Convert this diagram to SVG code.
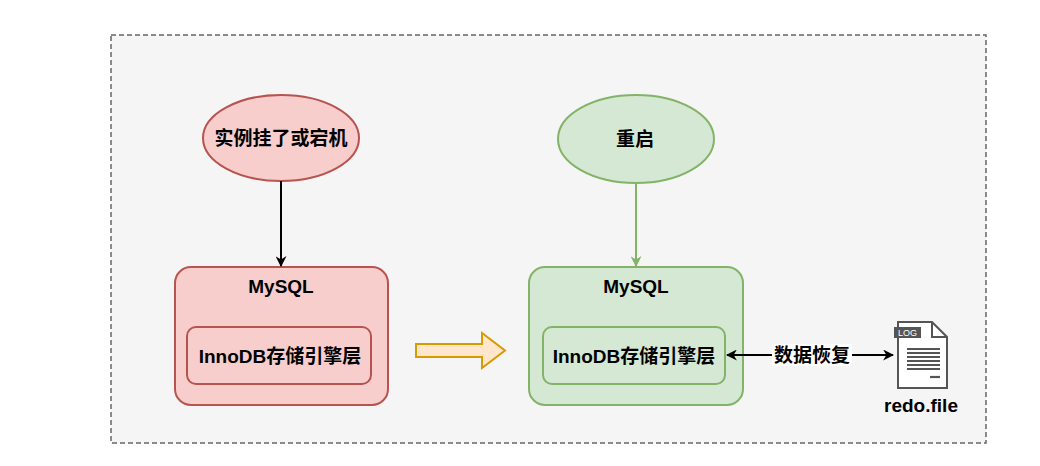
<svg xmlns="http://www.w3.org/2000/svg" width="1040" height="466" viewBox="0 0 1040 466">
<defs>
<style>
.t{font-family:"Liberation Sans","Noto Sans CJK SC",Arial,sans-serif;font-weight:bold;font-size:19px;fill:#000;text-anchor:middle;dominant-baseline:central}
.red{fill:#f8cecc;stroke:#b85450;stroke-width:2}
.green{fill:#d5e8d4;stroke:#82b366;stroke-width:2}
</style>
<marker id="ab" viewBox="0 0 10 10" refX="9" refY="5" markerWidth="11" markerHeight="11" orient="auto-start-reverse" markerUnits="userSpaceOnUse">
<path d="M0,0 L10,5 L0,10 L3,5 Z" fill="#000"/>
</marker>
<marker id="ag" viewBox="0 0 10 10" refX="9" refY="5" markerWidth="11" markerHeight="11" orient="auto" markerUnits="userSpaceOnUse">
<path d="M0,0 L10,5 L0,10 L3,5 Z" fill="#82b366"/>
</marker>
</defs>
<rect width="1040" height="466" fill="#ffffff"/>
<g id="container">
<rect x="111" y="35" width="875" height="408" fill="#f5f5f5" stroke="#666666" stroke-width="1.5" stroke-dasharray="5 3"/>
</g>
<g id="crash">
<ellipse class="red" cx="281" cy="138" rx="78" ry="43"/>
<text class="t" x="281" y="138">实例挂了或宕机</text>
</g>
<g id="mysql-left">
<rect class="red" x="175" y="267" width="213" height="138" rx="16"/>
<text class="t" x="281" y="286">MySQL</text>
<rect class="red" x="187" y="327" width="184" height="57" rx="9"/>
<text class="t" x="280" y="356">InnoDB存储引擎层</text>
</g>
<g id="restart">
<ellipse class="green" cx="636" cy="139" rx="78" ry="44"/>
<text class="t" x="635" y="139">重启</text>
</g>
<g id="mysql-right">
<rect class="green" x="529" y="267" width="214" height="138" rx="16"/>
<text class="t" x="636" y="286">MySQL</text>
<rect class="green" x="543" y="327" width="182" height="57" rx="9"/>
<text class="t" x="634" y="356">InnoDB存储引擎层</text>
</g>
<g id="redo">
<path d="M898,322 L932,322 L947,337 L947,388 L898,388 Z" fill="#ffffff" stroke="#555555" stroke-width="2"/>
<path d="M932,322 L932,337 L947,337" fill="none" stroke="#555555" stroke-width="2"/>
<rect x="894" y="327" width="27" height="11" fill="#555555"/>
<text x="907.5" y="332.5" style="font-family:'Liberation Sans',Arial,sans-serif;font-size:9px;fill:#ffffff;text-anchor:middle;dominant-baseline:central">LOG</text>
<g stroke="#555555" stroke-width="2.2">
<line x1="907" y1="349" x2="940" y2="349"/>
<line x1="907" y1="353" x2="940" y2="353"/>
<line x1="907" y1="357" x2="940" y2="357"/>
<line x1="907" y1="361" x2="940" y2="361"/>
<line x1="907" y1="365" x2="940" y2="365"/>
<line x1="907" y1="369" x2="940" y2="369"/>
<line x1="930" y1="377" x2="940" y2="377"/>
</g>
<text class="t" x="921" y="405">redo.file</text>
</g>
<g id="connectors">
<line x1="281" y1="181" x2="281" y2="266" stroke="#000" stroke-width="2" marker-end="url(#ab)"/>
<line x1="636" y1="183" x2="636" y2="266" stroke="#82b366" stroke-width="2" marker-end="url(#ag)"/>
<path d="M416,344 L482,344 L482,333 L505,350.5 L482,368 L482,357 L416,357 Z" fill="#ffe6cc" stroke="#d79b00" stroke-width="2" stroke-linejoin="miter"/>
<line x1="727" y1="355" x2="893" y2="355" stroke="#000" stroke-width="2" marker-start="url(#ab)" marker-end="url(#ab)"/>
<rect x="772" y="344" width="80" height="22" fill="#ffffff"/>
<text class="t" x="812" y="355">数据恢复</text>
</g>
</svg>
